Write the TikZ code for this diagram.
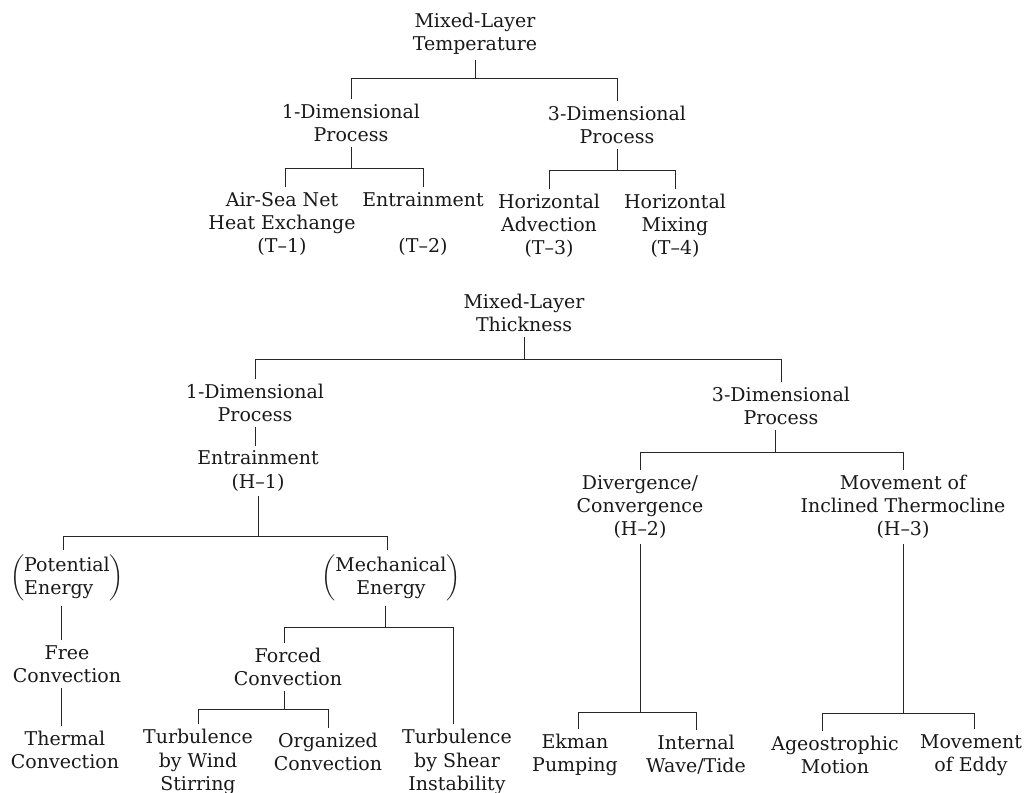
\documentclass[tikz,border=0pt]{standalone}
\usepackage{fontspec}
\setmainfont{DejaVu Serif}
\usepackage{amsmath}

\begin{document}
\begin{tikzpicture}[x=0.02cm, y=-0.02cm,
	lbl/.style={align=center, inner sep=0pt, outer sep=3pt, text=black!90, font=\fontsize{10.8}{13.2}\selectfont},
	conn/.style={line width=0.5pt, black!85}]
	\useasboundingbox (0,0) rectangle (1026,793);
	% temperature tree
	\node[lbl] (mlt) at (475,34) {Mixed-Layer\\Temperature};
	\node[lbl] (tone) at (351,123) {1-Dimensional\\Process};
	\node[lbl] (tthree) at (617,125) {3-Dimensional\\Process};
	\node[lbl] (tair) at (282,224) {Air-Sea Net\\Heat Exchange\\(T--1)};
	\node[lbl] (tent) at (423,224) {Entrainment\\[\baselineskip](T--2)};
	\node[lbl] (tadv) at (549,226) {Horizontal\\Advection\\(T--3)};
	\node[lbl] (tmix) at (675,226) {Horizontal\\Mixing\\(T--4)};
	\coordinate (tb0) at (0,78);
	\coordinate (tb1) at (0,168);
	\coordinate (tb2) at (0,170);
	\draw[conn] (mlt.south) -- (mlt.south |- tb0);
	\draw[conn] (tone.north) -- (tone.north |- tb0) -- (tthree.north |- tb0) -- (tthree.north);
	\draw[conn] (tone.south) -- (tone.south |- tb1);
	\draw[conn] ([xshift=2pt]tair.north) -- ([xshift=2pt]tair.north |- tb1) -- (tent.north |- tb1) -- (tent.north);
	\draw[conn] (tthree.south) -- (tthree.south |- tb2);
	\draw[conn] (tadv.north) -- (tadv.north |- tb2) -- (tmix.north |- tb2) -- (tmix.north);
	% thickness tree
	\node[lbl] (mlh) at (524,313) {Mixed-Layer\\Thickness};
	\node[lbl] (hone) at (255,403) {1-Dimensional\\Process};
	\node[lbl] (hent) at (258,471) {Entrainment\\(H--1)};
	\node[lbl] (hpot) at (67,578) {$\left(\begin{tabular}{@{}l@{}}Potential\\Energy\end{tabular}\right)$};
	\node[lbl] (hmech) at (391,578) {$\left(\begin{tabular}{@{}c@{}}Mechanical\\Energy\end{tabular}\right)$};
	\node[lbl] (hfree) at (67,664) {Free\\Convection};
	\node[lbl] (htherm) at (65,750) {Thermal\\Convection};
	\node[lbl] (hforced) at (288,667) {Forced\\Convection};
	\node[lbl] (hwind) at (198,762) {Turbulence\\by Wind\\Stirring};
	\node[lbl] (horg) at (328,752) {Organized\\Convection};
	\node[lbl] (hshear) at (457,762) {Turbulence\\by Shear\\Instability};
	\node[lbl] (hthree) at (781,406) {3-Dimensional\\Process};
	\node[lbl] (hdiv) at (640,507) {Divergence/\\Convergence\\(H--2)};
	\node[lbl] (hincl) at (903,507) {Movement of\\Inclined Thermocline\\(H--3)};
	\node[lbl] (hekman) at (575,755) {Ekman\\Pumping};
	\node[lbl] (hwave) at (696,755) {Internal\\Wave/Tide};
	\node[lbl] (hageo) at (835,755) {Ageostrophic\\Motion};
	\node[lbl] (heddy) at (971,755) {Movement\\of Eddy};
	\coordinate (hb0) at (0,359);
	\coordinate (hb1) at (0,536);
	\coordinate (hb2) at (0,627);
	\coordinate (hb3) at (0,709);
	\coordinate (hb4) at (0,452);
	\coordinate (hb5) at (0,712);
	\coordinate (hb6) at (0,713);
	\draw[conn] (mlh.south) -- (mlh.south |- hb0);
	\draw[conn] (hone.north) -- (hone.north |- hb0) -- (hthree.north |- hb0) -- (hthree.north);
	\draw[conn] (hone.south) -- (hone.south |- hent.north);
	\draw[conn] (hent.south) -- (hent.south |- hb1);
	\draw[conn] ([xshift=-2pt]hpot.north) -- ([xshift=-2pt]hpot.north |- hb1) -- ([xshift=-2pt]hmech.north |- hb1) -- ([xshift=-2pt]hmech.north);
	\draw[conn] ([xshift=-3pt]hpot.south) -- ([xshift=-3pt]hpot.south |- hfree.north);
	\draw[conn] ([xshift=-3pt]hfree.south) -- ([xshift=-3pt]hfree.south |- htherm.north);
	\draw[conn] ([xshift=-3pt]hmech.south) -- ([xshift=-3pt]hmech.south |- hb2);
	\draw[conn] ([xshift=-2pt]hforced.north) -- ([xshift=-2pt]hforced.north |- hb2) -- ([xshift=-2pt]hshear.north |- hb2) -- ([xshift=-2pt]hshear.north);
	\draw[conn] ([xshift=-2pt]hforced.south) -- ([xshift=-2pt]hforced.south |- hb3);
	\draw[conn] (hwind.north) -- (hwind.north |- hb3) -- (horg.north |- hb3) -- (horg.north);
	\draw[conn] ([xshift=-3pt]hthree.south) -- ([xshift=-3pt]hthree.south |- hb4);
	\draw[conn] (hdiv.north) -- (hdiv.north |- hb4) -- (hincl.north |- hb4) -- (hincl.north);
	\draw[conn] (hdiv.south) -- (hdiv.south |- hb5);
	\draw[conn] ([xshift=2pt]hekman.north) -- ([xshift=2pt]hekman.north |- hb5) -- (hwave.north |- hb5) -- (hwave.north);
	\draw[conn] (hincl.south) -- (hincl.south |- hb6);
	\draw[conn] ([xshift=-7pt]hageo.north) -- ([xshift=-7pt]hageo.north |- hb6) -- ([xshift=2pt]heddy.north |- hb6) -- ([xshift=2pt]heddy.north);
\end{tikzpicture}
\end{document}
